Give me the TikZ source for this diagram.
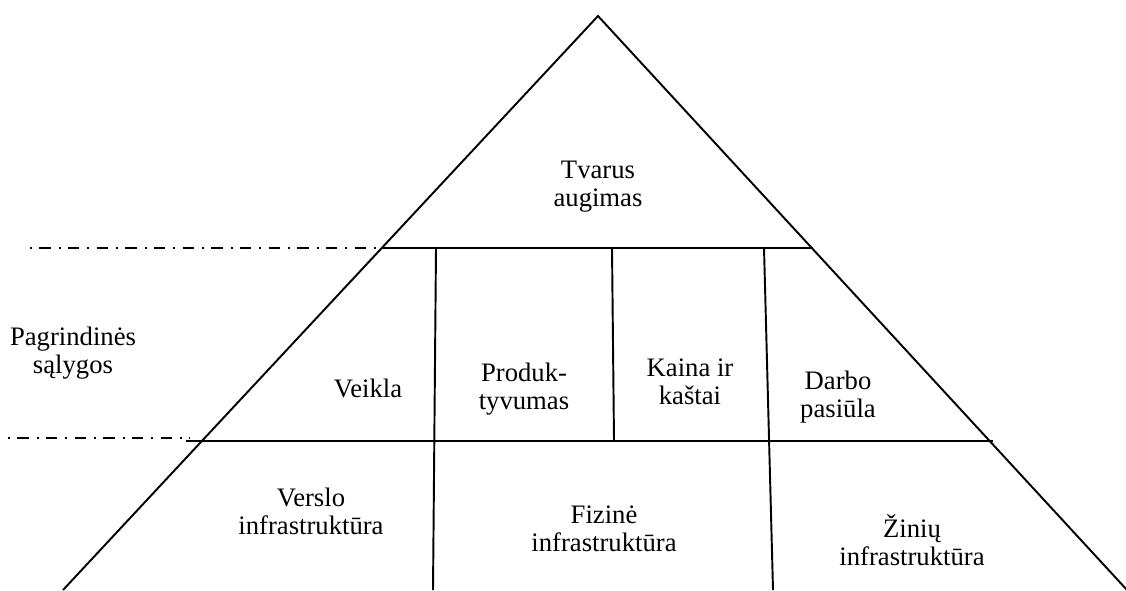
\documentclass[tikz,border=0pt]{standalone}
\usepackage{fontspec}
\setmainfont{Liberation Serif}
\begin{document}
\begin{tikzpicture}[x=0.75pt,y=-0.75pt,line width=1.45pt,
  lbl/.style={align=center,inner sep=0pt,font=\fontsize{20}{21}\selectfont},
  dashdot/.style={line width=1.4pt,dash pattern=on 1.5pt off 5.5pt on 8.5pt off 6pt}]
\useasboundingbox (0,0) rectangle (1126,590);
% triangle
\coordinate (A) at (598,16);
\coordinate (L) at (63,590);
\coordinate (R) at (1127,590);
\draw (L) -- (A) -- (R);
% horizontal levels
\coordinate (h1a) at (382,248);
\coordinate (h1b) at (813,248);
\coordinate (h2a) at (186,441);
\coordinate (h2b) at (993,441);
\draw (h1a) -- (h1b);
\draw (h2a) -- (h2b);
% dash-dot guides
\coordinate (d1a) at (30,248);
\coordinate (d1b) at (378,248);
\coordinate (d2a) at (8,438);
\coordinate (d2b) at (190,438);
\draw[dashdot] (d1a) -- (d1b);
\draw[dashdot] (d2a) -- (d2b);
% vertical dividers
\coordinate (v1a) at (436,248);
\coordinate (v1b) at (433,590);
\coordinate (v2a) at (612,248);
\coordinate (v2b) at (614,441);
\coordinate (v3a) at (764,248);
\coordinate (v3b) at (773,590);
\draw (v1a) -- (v1b);
\draw (v2a) -- (v2b);
\draw (v3a) -- (v3b);
% labels
\node[lbl] (top) at (598,187) {Tvarus\\augimas};
\node[lbl] (side) at (73,353) {Pagrindinės\\sąlygos};
\node[lbl] (veikla) at (368,388) {Veikla};
\node[lbl] (prod) at (524,389) {Produk-\\tyvumas};
\node[lbl] (kaina) at (690,382) {Kaina ir\\kaštai};
\node[lbl] (darbo) at (838,397) {Darbo\\pasiūla};
\node[lbl] (verslo) at (311,511) {Verslo\\infrastruktūra};
\node[lbl] (fizine) at (604,529) {Fizinė\\infrastruktūra};
\node[lbl] (ziniu) at (912,540) {Žinių\\infrastruktūra};
\end{tikzpicture}
\end{document}
